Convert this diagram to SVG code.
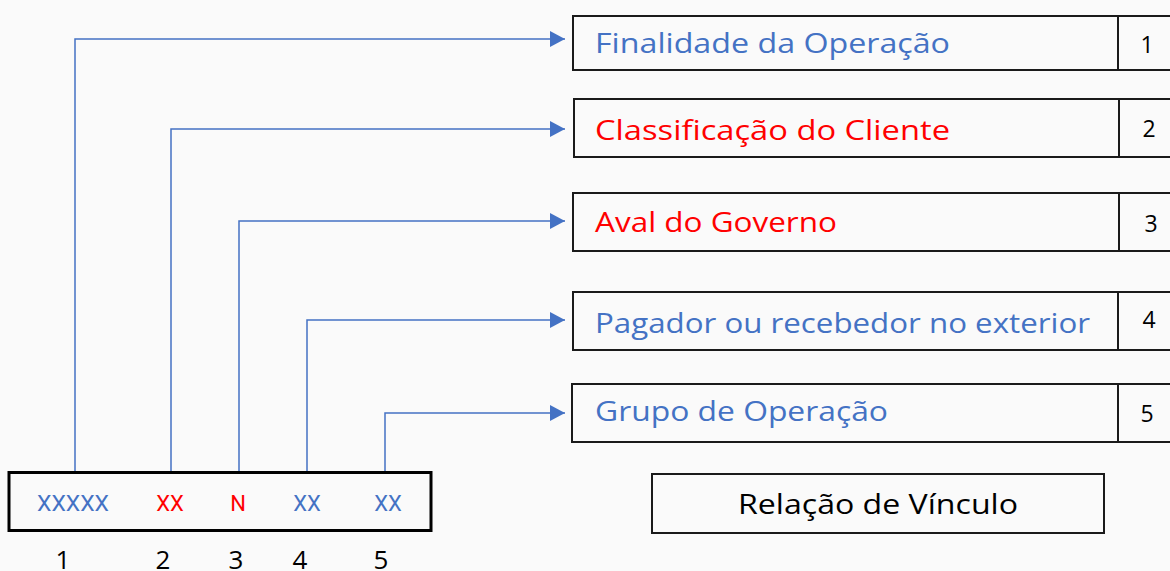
<svg xmlns="http://www.w3.org/2000/svg" width="1170" height="571" viewBox="0 0 1170 571">
<style>
.bg{fill:#fafafa}
.box{fill:none;stroke:#1a1a1a;stroke-width:2}
.lbl{font-family:"Open Sans",sans-serif;font-size:28px}
.blue{fill:#4472C4}
.red{fill:#FF0000}
.num{font-family:"Open Sans",sans-serif;font-size:23px;fill:#000;text-anchor:middle}
.code{font-family:Roboto,sans-serif;font-size:22px;text-anchor:middle}
.idx{font-family:"Open Sans",sans-serif;font-size:26px;fill:#000;text-anchor:middle}
.conn{fill:none;stroke:#4472C4;stroke-width:1.5}
</style>
<defs>
<marker id="arr" viewBox="0 0 15 16" refX="15" refY="8" markerWidth="15" markerHeight="16" markerUnits="userSpaceOnUse" orient="auto">
<path d="M0,0 L15,8 L0,16 z" fill="#4472C4"/>
</marker>
</defs>
<rect class="bg" x="0" y="0" width="1170" height="571"/>
<g id="connectors">
<path class="conn" d="M75 472 V39 H565" marker-end="url(#arr)"/>
<path class="conn" d="M171 472 V129 H565" marker-end="url(#arr)"/>
<path class="conn" d="M239 472 V221 H565" marker-end="url(#arr)"/>
<path class="conn" d="M307 472 V320 H565" marker-end="url(#arr)"/>
<path class="conn" d="M385 472 V413 H565" marker-end="url(#arr)"/>
</g>
<g id="node-finalidade">
<rect class="box" x="573" y="16" width="600" height="54"/>
<line class="box" x1="1118" y1="16" x2="1118" y2="70"/>
<text class="lbl blue" x="595" y="53" textLength="355" lengthAdjust="spacingAndGlyphs">Finalidade da Operação</text>
<text class="num" x="1147" y="53">1</text>
</g>
<g id="node-classificacao">
<rect class="box" x="574" y="99" width="600" height="58"/>
<line class="box" x1="1119" y1="99" x2="1119" y2="157"/>
<text class="lbl red" x="595" y="140" textLength="355" lengthAdjust="spacingAndGlyphs">Classificação do Cliente</text>
<text class="num" x="1149" y="137">2</text>
</g>
<g id="node-aval">
<rect class="box" x="573" y="193" width="600" height="58"/>
<line class="box" x1="1119" y1="193" x2="1119" y2="251"/>
<text class="lbl red" x="595" y="232" textLength="242" lengthAdjust="spacingAndGlyphs">Aval do Governo</text>
<text class="num" x="1151" y="232">3</text>
</g>
<g id="node-pagador">
<rect class="box" x="573" y="292" width="600" height="58"/>
<line class="box" x1="1118" y1="292" x2="1118" y2="350"/>
<text class="lbl blue" x="595" y="333" textLength="495" lengthAdjust="spacingAndGlyphs">Pagador ou recebedor no exterior</text>
<text class="num" x="1149" y="328">4</text>
</g>
<g id="node-grupo">
<rect class="box" x="572" y="384" width="600" height="58"/>
<line class="box" x1="1118" y1="384" x2="1118" y2="442"/>
<text class="lbl blue" x="595" y="421" textLength="293" lengthAdjust="spacingAndGlyphs">Grupo de Operação</text>
<text class="num" x="1147" y="422">5</text>
</g>
<g id="node-codigo">
<rect x="9" y="472.5" width="422" height="58" fill="none" stroke="#000" stroke-width="3"/>
<text class="code blue" x="73" y="511" textLength="72" lengthAdjust="spacingAndGlyphs">XXXXX</text>
<text class="code red" x="170" y="511">XX</text>
<text class="code red" x="238" y="511">N</text>
<text class="code blue" x="307" y="511">XX</text>
<text class="code blue" x="388" y="511">XX</text>
<text class="idx" x="63" y="569">1</text>
<text class="idx" x="163" y="569">2</text>
<text class="idx" x="236" y="569">3</text>
<text class="idx" x="300" y="569">4</text>
<text class="idx" x="381" y="569">5</text>
</g>
<g id="node-relacao">
<rect class="box" x="652" y="474" width="452" height="59"/>
<text x="878" y="514" text-anchor="middle" font-family="Open Sans, sans-serif" font-size="28" fill="#000" textLength="280" lengthAdjust="spacingAndGlyphs">Relação de Vínculo</text>
</g>
</svg>
